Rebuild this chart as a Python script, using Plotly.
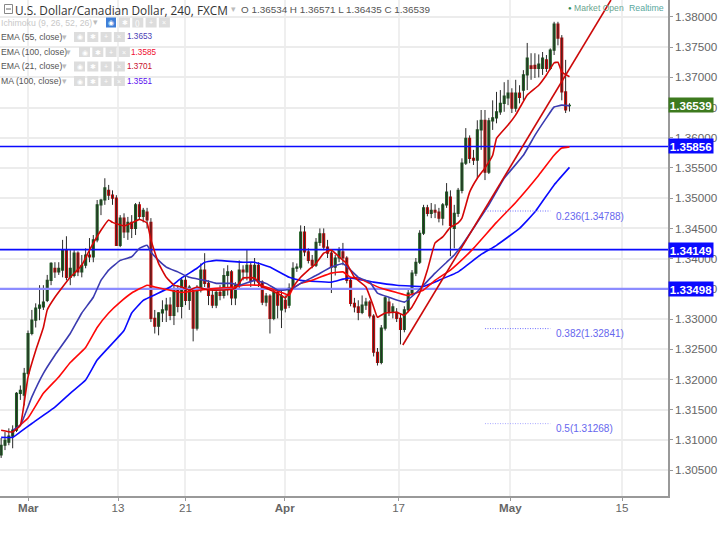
import plotly.graph_objects as go

opens = [1.3075,1.3091,1.3096,1.3106,1.3116,1.3177,1.3174,1.3210,1.3276,1.3298,1.3318,1.3320,1.3331,1.3364,1.3384,1.3378,1.3381,1.3414,1.3369,1.3372,
1.3409,1.3378,1.3389,1.3406,1.3403,1.3431,1.3489,1.3497,1.3513,1.3505,1.3500,1.3422,1.3467,1.3444,1.3460,1.3450,1.3489,1.3470,1.3477,1.3460,
1.3301,1.3288,1.3310,1.3315,1.3323,1.3306,1.3348,1.3321,1.3364,1.3331,1.3348,1.3285,1.3348,1.3381,1.3359,1.3339,1.3323,1.3344,1.3339,1.3372,
1.3378,1.3335,1.3356,1.3381,1.3378,1.3389,1.3364,1.3389,1.3361,1.3328,1.3338,1.3301,1.3344,1.3315,1.3331,1.3323,1.3351,1.3384,1.3386,1.3444,
1.3411,1.3397,1.3389,1.3427,1.3441,1.3419,1.3409,1.3386,1.3401,1.3411,1.3401,1.3364,1.3326,1.3320,1.3311,1.3323,1.3328,1.3305,1.3245,1.3228,
1.3285,1.3328,1.3311,1.3311,1.3301,1.3283,1.3315,1.3343,1.3376,1.3394,1.3442,1.3484,1.3475,1.3480,1.3477,1.3467,1.3489,1.3502,1.3450,1.3475,
1.3513,1.3558,1.3599,1.3566,1.3563,1.3613,1.3629,1.3543,1.3628,1.3633,1.3643,1.3657,1.3666,1.3674,1.3649,1.3674,1.3679,1.3704,1.3719,1.3720,
1.3715,1.3715,1.3729,1.3715,1.3745,1.3788,1.3765,1.3676,1.36534]
closes = [1.3091,1.3099,1.3106,1.3116,1.3177,1.3182,1.3210,1.3276,1.3298,1.3318,1.3323,1.3328,1.3364,1.3392,1.3378,1.3384,1.3414,1.3369,1.3384,1.3409,
1.3378,1.3389,1.3406,1.3403,1.3431,1.3489,1.3497,1.3517,1.3505,1.3500,1.3422,1.3467,1.3444,1.3460,1.3450,1.3489,1.3470,1.3480,1.3464,1.3301,
1.3288,1.3310,1.3315,1.3323,1.3306,1.3348,1.3321,1.3364,1.3331,1.3353,1.3285,1.3348,1.3381,1.3359,1.3339,1.3323,1.3344,1.3339,1.3372,1.3378,
1.3335,1.3356,1.3381,1.3378,1.3389,1.3364,1.3389,1.3361,1.3328,1.3338,1.3301,1.3344,1.3323,1.3338,1.3318,1.3351,1.3384,1.3386,1.3444,1.3411,
1.3397,1.3389,1.3427,1.3441,1.3419,1.3409,1.3386,1.3401,1.3414,1.3401,1.3364,1.3326,1.3320,1.3311,1.3323,1.3328,1.3305,1.3245,1.3228,1.3285,
1.3335,1.3311,1.3320,1.3301,1.3283,1.3315,1.3343,1.3376,1.3394,1.3442,1.3484,1.3475,1.3480,1.3477,1.3467,1.3489,1.3510,1.3455,1.3475,1.3513,
1.3558,1.3599,1.3566,1.3563,1.3613,1.3629,1.3543,1.3628,1.3633,1.3643,1.3657,1.3669,1.3674,1.3649,1.3674,1.3667,1.3704,1.3732,1.3715,1.3715,
1.3722,1.3732,1.3715,1.3745,1.3788,1.3765,1.3676,1.3646,1.36539]
highs = [1.3103,1.3113,1.3119,1.3124,1.3179,1.3190,1.3219,1.3281,1.3315,1.3326,1.3356,1.3356,1.3373,1.3394,1.3394,1.3394,1.3431,1.3437,1.3414,1.3414,
1.3412,1.3406,1.3417,1.3434,1.3439,1.3497,1.3499,1.3533,1.3522,1.3513,1.3505,1.3472,1.3475,1.3469,1.3472,1.3492,1.3494,1.3484,1.3484,1.3467,
1.3315,1.3311,1.3331,1.3335,1.3336,1.3356,1.3356,1.3369,1.3371,1.3356,1.3351,1.3356,1.3392,1.3409,1.3364,1.3348,1.3348,1.3356,1.3384,1.3389,
1.3381,1.3361,1.3397,1.3389,1.3414,1.3394,1.3401,1.3394,1.3364,1.3343,1.3341,1.3348,1.3351,1.3348,1.3339,1.3359,1.3394,1.3392,1.3455,1.3454,
1.3417,1.3406,1.3434,1.3450,1.3450,1.3431,1.3414,1.3406,1.3419,1.3426,1.3404,1.3368,1.3335,1.3331,1.3339,1.3335,1.3331,1.3308,1.3252,1.3290,
1.3338,1.3335,1.3326,1.3318,1.3308,1.3321,1.3348,1.3381,1.3401,1.3447,1.3489,1.3489,1.3492,1.3490,1.3484,1.3492,1.3525,1.3513,1.3489,1.3517,
1.3566,1.3616,1.3604,1.3580,1.3629,1.3646,1.3646,1.3633,1.3662,1.3676,1.3679,1.3692,1.3696,1.3682,1.3696,1.3687,1.3712,1.3757,1.3740,1.3740,
1.3738,1.3742,1.3737,1.3748,1.3792,1.3792,1.3770,1.3729,1.36571]
lows = [1.3070,1.3083,1.3091,1.3086,1.3113,1.3166,1.3157,1.3207,1.3273,1.3286,1.3298,1.3315,1.3328,1.3356,1.3368,1.3373,1.3369,1.3364,1.3356,1.3369,
1.3371,1.3369,1.3384,1.3394,1.3394,1.3427,1.3472,1.3489,1.3497,1.3489,1.3421,1.3419,1.3434,1.3431,1.3434,1.3439,1.3464,1.3460,1.3450,1.3295,
1.3276,1.3273,1.3295,1.3295,1.3298,1.3290,1.3311,1.3301,1.3323,1.3315,1.3263,1.3281,1.3344,1.3353,1.3323,1.3318,1.3318,1.3331,1.3334,1.3339,
1.3323,1.3323,1.3348,1.3364,1.3364,1.3353,1.3356,1.3353,1.3323,1.3321,1.3276,1.3298,1.3301,1.3285,1.3311,1.3318,1.3348,1.3378,1.3382,1.3404,
1.3392,1.3384,1.3386,1.3421,1.3414,1.3401,1.3343,1.3372,1.3394,1.3389,1.3359,1.3321,1.3311,1.3298,1.3308,1.3315,1.3301,1.3238,1.3223,1.3225,
1.3281,1.3305,1.3301,1.3295,1.3258,1.3278,1.3311,1.3339,1.3371,1.3391,1.3439,1.3470,1.3467,1.3467,1.3460,1.3455,1.3484,1.3404,1.3417,1.3469,
1.3508,1.3555,1.3558,1.3555,1.3533,1.3580,1.3530,1.3540,1.3613,1.3624,1.3638,1.3643,1.3654,1.3641,1.3643,1.3657,1.3662,1.3679,1.3696,1.3699,
1.3700,1.3704,1.3709,1.3712,1.3737,1.3753,1.3662,1.3641,1.36435]

ema21_i = [0,3,5,6,7,9,11,12,14,16,18,21,23,26,28,29,32,34,36,38,39,41,43,45,47,49,51,54,58,61,63,66,68,69,73,74,76,78,80,82,84,86,89,90,92,95,97,98,100,103,105,107,109,111,113,115,117,119,120,122,124,126,128,129,132,134,135,137,140,142,144,145,146,148]
ema21_v = [1.3116,1.3113,1.3124,1.3161,1.3204,1.3248,1.3286,1.3315,1.3336,1.3353,1.3369,1.3389,1.3414,1.3447,1.3464,1.3460,1.3454,1.3459,1.3465,1.3459,1.3431,1.3392,1.3369,1.3356,1.3353,1.3348,1.3353,1.3348,1.3348,1.3351,1.3368,1.3368,1.3353,1.3351,1.3339,1.3335,1.3353,1.3369,1.3381,1.3392,1.3409,1.3414,1.3397,1.3392,1.3369,1.3353,1.3320,1.3303,1.3310,1.3311,1.3306,1.3320,1.3343,1.3381,1.3426,1.3436,1.3452,1.3459,1.3467,1.3510,1.3533,1.3550,1.3571,1.3599,1.3621,1.3638,1.3649,1.3671,1.3687,1.3704,1.3724,1.3725,1.3709,1.3701]
ema55_i = [3,5,8,11,14,18,21,24,26,28,31,34,36,38,39,41,43,46,49,53,56,60,62,66,69,72,74,76,78,82,86,89,91,93,96,98,101,105,108,110,113,116,118,120,127,131,136,139,142,144,146,148]
ema55_v = [1.3116,1.3124,1.3171,1.3210,1.3240,1.3276,1.3310,1.3336,1.3364,1.3381,1.3397,1.3403,1.3417,1.3422,1.3411,1.3397,1.3386,1.3378,1.3369,1.3364,1.3359,1.3359,1.3356,1.3364,1.3359,1.3348,1.3348,1.3351,1.3359,1.3372,1.3386,1.3392,1.3381,1.3369,1.3361,1.3343,1.3336,1.3328,1.3343,1.3356,1.3376,1.3394,1.3406,1.3422,1.3489,1.3533,1.3571,1.3604,1.3633,1.3651,1.3654,1.3653]
ema100_i = [4,7,11,15,18,22,25,28,31,34,38,40,43,47,52,56,61,63,67,69,73,75,76,78,81,83,86,89,91,93,96,99,103,106,110,113,117,119,123,129,134,140,144,146,148]
ema100_v = [1.3119,1.3136,1.3177,1.3204,1.3228,1.3253,1.3286,1.3310,1.3328,1.3343,1.3356,1.3353,1.3349,1.3344,1.3348,1.3351,1.3353,1.3356,1.3356,1.3353,1.3344,1.3339,1.3351,1.3359,1.3364,1.3369,1.3376,1.3378,1.3369,1.3368,1.3359,1.3351,1.3344,1.3339,1.3348,1.3364,1.3381,1.3392,1.3417,1.3460,1.3493,1.3538,1.3571,1.3583,1.3585]
ma100_i = [0,3,5,8,14,18,22,25,28,32,34,37,41,44,47,51,53,56,63,66,70,75,78,86,89,91,97,103,110,114,119,125,129,135,139,144,148]
ma100_v = [1.3104,1.3104,1.3113,1.3127,1.3154,1.3177,1.3199,1.3232,1.3253,1.3281,1.3310,1.3331,1.3343,1.3353,1.3368,1.3384,1.3394,1.3397,1.3394,1.3394,1.3386,1.3369,1.3364,1.3361,1.3366,1.3368,1.3361,1.3356,1.3354,1.3364,1.3378,1.3407,1.3422,1.3450,1.3477,1.3522,1.3551]
trend_i = [104.6,158.8]
trend_v = [1.3257,1.3828]
levels = [1.35856,1.34149,1.33498]
level_colors = ["#0a0aff","#0a0aff","#8c8cff"]
level_widths = [1.6,1.6,2.2]
fib_names = ["0.236(1.34788)","0.382(1.32841)","0.5(1.31268)"]
fib_vals = [1.34788,1.32841,1.31268]
fib_colors = ["#6f6fff","#6f6fff","#a8a8ff"]
fib_i = [126,143]
y_ticks = [1.305,1.31,1.315,1.32,1.325,1.33,1.335,1.34,1.345,1.35,1.355,1.36,1.365,1.37,1.375,1.38]
x_ticks = [7.07,30.43,48.0,73.84,103.5,132.6,161.7]
x_labels = ["<b>Mar</b>","13","21","<b>Apr</b>","17","<b>May</b>","15"]
legend_rows = ["EMA (55, close)","EMA (100, close)","EMA (21, close)","MA (100, close)"]
legend_vals = ["1.3653","1.3585","1.3701","1.3551"]
legend_cols = ["#4a3db5","#f01030","#c8102e","#5a10f0"]

W, H = 668.0, 496.0
X = lambda p: p / W
Y = lambda p: 1 - p / H
SANS = "Liberation Sans"

fig = go.Figure()
wx, wy = [], []
for i, (h, l) in enumerate(zip(highs, lows)):
    wx += [i, i, None]
    wy += [l, h, None]
fig.add_trace(go.Scatter(x=wx, y=wy, mode="lines", line=dict(color="#2a2a2a", width=1), hoverinfo="skip"))
fig.add_trace(go.Candlestick(
    x=list(range(len(opens))), open=opens, close=closes,
    high=[max(a, b) for a, b in zip(opens, closes)], low=[min(a, b) for a, b in zip(opens, closes)],
    increasing=dict(line=dict(color="#1e5f22", width=1.2), fillcolor="#1e5f22"),
    decreasing=dict(line=dict(color="#c80808", width=1.2), fillcolor="#c80808"),
    whiskerwidth=0))
for v, c, w in zip(levels, level_colors, level_widths):
    fig.add_trace(go.Scatter(x=[-0.3, 173.66], y=[v, v], mode="lines", line=dict(color=c, width=w)))
for xs, ys, c in [(ma100_i, ma100_v, "#0a0aff"), (ema100_i, ema100_v, "#ff0808"),
                  (ema55_i, ema55_v, "#3b3bb0"), (ema21_i, ema21_v, "#d40606")]:
    fig.add_trace(go.Scatter(x=xs, y=ys, mode="lines", line=dict(color=c, width=1.6, shape="spline", smoothing=0.3)))
fig.add_trace(go.Scatter(x=trend_i, y=trend_v, mode="lines", line=dict(color="#cc0a0a", width=1.6)))
for v, c in zip(fib_vals, fib_colors):
    fig.add_trace(go.Scatter(x=fib_i, y=[v, v], mode="lines", line=dict(color=c, width=1, dash="1px,1.5px")))

ann, shp = [], []
def text(px, py, s, size=10, color="#555", family=SANS, anchor="left"):
    ann.append(dict(x=X(px), y=Y(py), xref="paper", yref="paper", text=s, showarrow=False, xanchor=anchor,
                    yanchor="middle", font=dict(size=size, color=color, family=family), borderpad=0, borderwidth=0))
def rect(x0, y0, x1, y1, color, line=None):
    shp.append(dict(type="rect", xref="paper", yref="paper", x0=X(x0), x1=X(x1), y0=Y(y0), y1=Y(y1),
                    fillcolor=color, line=dict(width=1 if line else 0, color=line or color)))
def tri(px, py, color="#bbb"):
    text(px, py, "▾", 9, color)

# header
rect(4.5, 4.5, 12.5, 13.5, "#ffffff", "#888")
shp.append(dict(type="line", xref="paper", yref="paper", x0=X(6), x1=X(11), y0=Y(9), y1=Y(9), line=dict(color="#666", width=1)))
text(15, 9.5, "U.S. Dollar/Canadian Dollar, 240, FXCM", 11.8, "#333", "Open Sans")
tri(231, 9)
text(241, 9.5, "O 1.36534 H 1.36571 L 1.36435 C 1.36539", 9.9, "#555", SANS)
# icons
def icons(x0, py, n=4):
    for k in range(n):
        bx = x0 + k * 13.3
        rect(bx, py - 5, bx + 11, py + 5, "#dddddd")
        g = ["◉", "✱", "+", "×"][k]
        text(bx + 5.5, py, g, 7, "#ffffff", SANS, "center")
text(1, 22.5, "Ichimoku (9, 26, 52, 26)", 8.7, "#c8c8c8", SANS)
tri(93, 22)
rect(106, 17.5, 116, 27.5, "#3f7fd8")
text(111, 22.5, "◉", 7, "#ffffff", SANS, "center")
for k, g in enumerate(["✱", "()", "+", "×"]):
    bx = 119 + k * 13.3
    rect(bx, 17.5, bx + 11, 27.5, "#dddddd")
    text(bx + 5.5, 22.5, g, 7, "#ffffff", SANS, "center")
rows_y = [37, 52, 66.5, 81]
icon_x = [74, 79, 74, 74]
tri_x = [62, 66, 62, 62]
val_x = [127, 131, 127, 127]
for name, val, col, ry, ix, tx, vx in zip(legend_rows, legend_vals, legend_cols, rows_y, icon_x, tri_x, val_x):
    text(1, ry, name, 8.7, "#555", SANS)
    tri(tx, ry)
    icons(ix, ry)
    text(vx, ry, val, 8.2, col, SANS)
# market status
text(568, 8, "●", 6, "#2a8a5a", SANS)
text(574, 8, "Market Open", 8.6, "#6aa58e", SANS)
text(629, 8, "Realtime", 8.8, "#5aa8a0", SANS)

# price tags
for v, c in [(1.36539, "#3d7a1e"), (1.35856, "#0a0aff"), (1.34149, "#0a0aff"), (1.33498, "#0a0aff")]:
    ann.append(dict(x=X(668), y=v, xref="paper", yref="y", text="<b>%.5f</b>" % v, showarrow=False, xanchor="left",
                    yanchor="middle", width=44, height=14, bgcolor=c, align="center", borderpad=0,
                    font=dict(size=11.6, color="#ffffff", family=SANS)))
# fib labels
for n, v, c in zip(fib_names, fib_vals, fib_colors):
    ann.append(dict(x=144.1, y=v, xref="x", yref="y", text=n, showarrow=False, xanchor="left", yanchor="middle", yshift=-5,
                    font=dict(size=10, color="#6666ee", family=SANS)))

fig.update_layout(
    width=725, height=543, margin=dict(l=0, r=57, t=0, b=47, autoexpand=False), autosize=False,
    paper_bgcolor="#ffffff", plot_bgcolor="#ffffff", showlegend=False,
    annotations=ann, shapes=shp,
    xaxis=dict(range=[-0.3, 173.66], tickmode="array", tickvals=x_ticks, ticktext=x_labels, showgrid=True,
               gridcolor="#efefef", gridwidth=1.5, showline=True, linecolor="#999", linewidth=1.5, ticks="outside",
               ticklen=3, tickcolor="#999", tickfont=dict(size=11.6, color="#666", family=SANS), ticklabelstandoff=-3,
               rangeslider=dict(visible=False), zeroline=False),
    yaxis=dict(range=[1.30070, 1.38281], side="right", tickmode="array", tickvals=y_ticks,
               ticktext=["%.5f" % t for t in y_ticks], showgrid=True, gridcolor="#ececec", gridwidth=1.5,
               showline=True, linecolor="#999", linewidth=1.5, ticks="outside", ticklen=3, tickcolor="#999",
               tickfont=dict(size=11.7, color="#666", family=SANS), zeroline=False),
)
fig.write_html("out.html", config=dict(displayModeBar=False),
               post_script="document.body.style.margin='0';document.body.style.overflow='hidden';")
